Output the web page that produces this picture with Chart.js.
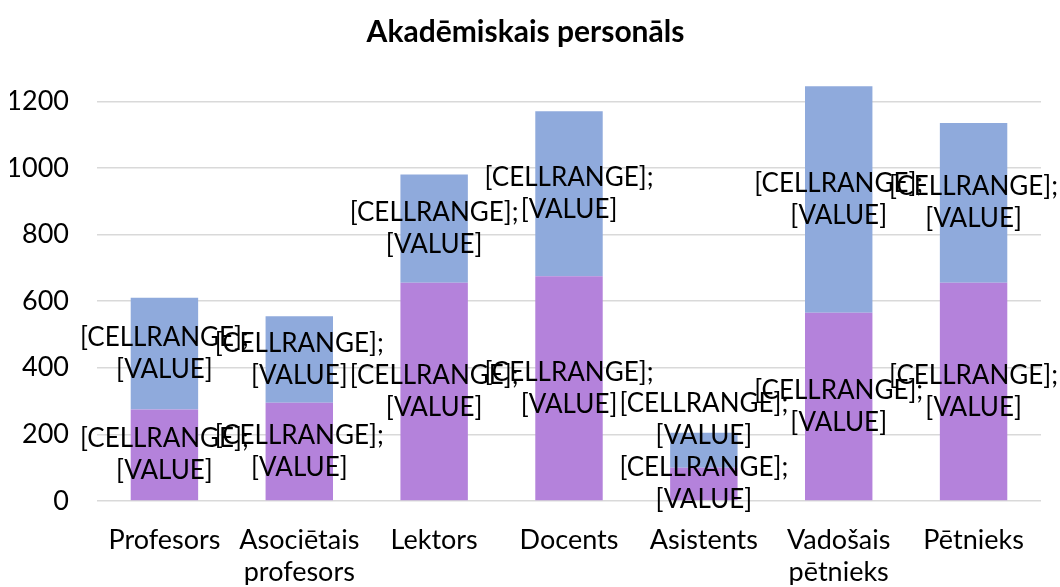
<!DOCTYPE html>
<html>
<head>
<meta charset="utf-8">
<script src="https://cdn.jsdelivr.net/npm/chart.js@4.4.0/dist/chart.umd.min.js"></script>
<style>
  html, body { margin: 0; padding: 0; background: #fff; }
  #wrap { width: 1060px; height: 587px; position: relative; }
</style>
</head>
<body>
<div id="wrap"><canvas id="chart"></canvas></div>
<script>
// data
const categories = ['Profesors', ['Asociētais', 'profesors'], 'Lektors', 'Docents', 'Asistents', ['Vadošais', 'pētnieks'], 'Pētnieks'];
const lowerValues = [275, 295, 655, 675, 100, 565, 655];
const upperValues = [335, 260, 325, 495, 105, 680, 480];
const yTickValues = [0, 200, 400, 600, 800, 1000, 1200];
const labelLines = ['[CELLRANGE];', '[VALUE]'];

const FONT = 'Lato, Calibri, "Open Sans", sans-serif';

// draws the two-line placeholder label in the middle of every bar segment,
// pushing an upper label up when it would sit on the one below (like Excel does)
const segmentLabels = {
    id: 'segmentLabels',
    afterDatasetsDraw(chart) {
        const ctx = chart.ctx;
        const lh = 32;
        ctx.save();
        ctx.font = '26px ' + FONT;
        ctx.fillStyle = '#000';
        ctx.textAlign = 'center';
        ctx.textBaseline = 'middle';
        const prevCenter = {};
        chart.data.datasets.forEach((ds, i) => {
            const meta = chart.getDatasetMeta(i);
            meta.data.forEach((bar, j) => {
                let cy = (bar.y + bar.base) / 2;
                if (prevCenter[j] !== undefined) {
                    cy = Math.min(cy, prevCenter[j] - labelLines.length * lh);
                }
                prevCenter[j] = cy;
                labelLines.forEach((line, k) => {
                    ctx.fillText(line, bar.x, cy + (k - (labelLines.length - 1) / 2) * lh);
                });
            });
        });
        ctx.restore();
    }
};

new Chart(document.getElementById('chart'), {
    type: 'bar',
    data: {
        labels: categories,
        datasets: [
            { data: lowerValues, backgroundColor: '#B482DB', categoryPercentage: 1, barPercentage: 0.5 },
            { data: upperValues, backgroundColor: '#8FAADC', categoryPercentage: 1, barPercentage: 0.5 }
        ]
    },
    options: {
        responsive: true,
        maintainAspectRatio: false,
        animation: false,
        layout: { padding: { left: 10, right: 19, top: 0, bottom: 2 } },
        plugins: {
            legend: { display: false },
            tooltip: { enabled: false },
            title: {
                display: true,
                text: 'Akadēmiskais personāls',
                color: '#000',
                font: { family: FONT, size: 30, weight: 'bold', lineHeight: 1.2 },
                padding: { top: 14, bottom: 18 }
            }
        },
        scales: {
            x: {
                stacked: true,
                grid: { display: false },
                border: { display: false },
                afterFit: axis => { axis.height = 84; },
                ticks: { color: '#000', font: { family: FONT, size: 27, lineHeight: 1.2 }, padding: 15, maxRotation: 0, autoSkip: false }
            },
            y: {
                stacked: true,
                min: 0,
                max: 1300,
                afterBuildTicks: axis => { axis.ticks = yTickValues.map(v => ({ value: v })); },
                afterFit: axis => { axis.width = 87; },
                grid: { color: '#D9D9D9', lineWidth: 1.5, drawTicks: false },
                border: { display: false },
                ticks: { color: '#000', font: { family: FONT, size: 27 }, padding: 28, callback: v => String(v) }
            }
        }
    },
    plugins: [segmentLabels]
});
</script>
</body>
</html>
